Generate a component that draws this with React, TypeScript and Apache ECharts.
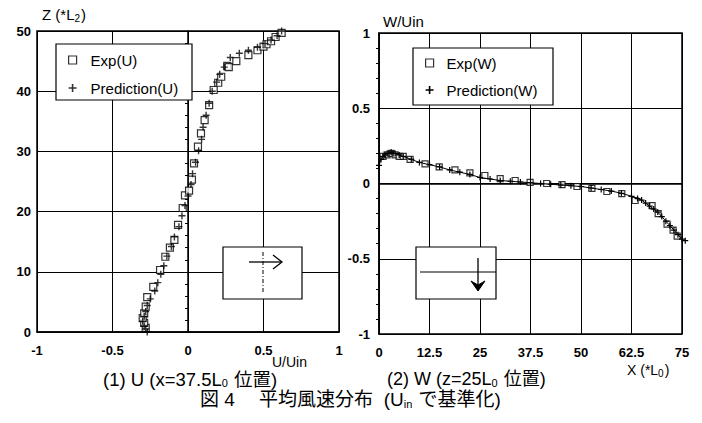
import React, { useEffect, useRef } from "react";
import * as echarts from "echarts";

// U/Uin vs Z (left panel)
const uExp: [number, number][] = [
  [-0.28, 0.7], [-0.29, 1.5], [-0.3, 2.3], [-0.29, 3.1], [-0.28, 4.2], [-0.27, 5.8],
  [-0.23, 7.5], [-0.185, 10.3], [-0.15, 12.5], [-0.12, 14.0], [-0.09, 15.3], [-0.066, 17.8],
  [-0.035, 20.6], [-0.02, 22.7], [0.007, 23.5], [0.026, 25.3], [0.04, 28], [0.066, 30.8],
  [0.086, 33], [0.11, 35.2], [0.14, 37.7], [0.17, 40.2], [0.2, 41.4], [0.22, 42.4],
  [0.26, 44.2], [0.27, 44], [0.32, 45], [0.4, 46], [0.46, 46.8], [0.5, 47.4], [0.52, 47.8],
  [0.55, 48.3], [0.58, 49], [0.62, 49.7],
];
const uPred: [number, number][] = [
  [-0.27, 0], [-0.28, 0.5], [-0.29, 1], [-0.3, 1.8], [-0.29, 2.6], [-0.28, 3.4], [-0.27, 4.4],
  [-0.25, 5.5], [-0.22, 6.8], [-0.2, 8.2], [-0.18, 9.6], [-0.16, 11], [-0.14, 12.6],
  [-0.11, 14.2], [-0.09, 15.8], [-0.06, 17.5], [-0.04, 19.3], [-0.02, 21], [0.0, 22.6],
  [0.02, 24.5], [0.03, 26.3], [0.05, 28.2], [0.07, 30.1], [0.09, 32], [0.1, 34], [0.12, 36],
  [0.14, 38], [0.16, 40], [0.19, 41.5], [0.21, 42.8], [0.24, 44], [0.28, 45.6], [0.34, 46.3],
  [0.4, 46.8], [0.46, 47.3], [0.51, 47.9], [0.55, 48.5], [0.59, 49.2], [0.62, 50],
];

// X vs W/Uin (right panel)
const wExp: [number, number][] = [
  [1, 0.18], [2, 0.19], [3, 0.2], [4, 0.19], [5, 0.18], [6, 0.18], [7.7, 0.16], [11.4, 0.13],
  [14.9, 0.11], [18.8, 0.09], [22.5, 0.07], [26.2, 0.053], [30, 0.033], [33.7, 0.02],
  [37.4, 0.007], [41.5, 0], [45.3, -0.007], [49, -0.02], [52.7, -0.033], [56.4, -0.053],
  [60.1, -0.067], [63.4, -0.113], [67.6, -0.147], [69.1, -0.2], [71.3, -0.27], [72.8, -0.31],
  [73.8, -0.35],
];
const wPred: [number, number][] = [
  [0, 0.12], [0.5, 0.16], [1, 0.18], [1.5, 0.19], [2, 0.2], [2.5, 0.2], [3, 0.21], [3.5, 0.2],
  [4, 0.2], [5, 0.19], [6, 0.18], [8, 0.16], [10, 0.14], [12.5, 0.125], [15, 0.11],
  [17.5, 0.09], [20, 0.075], [22.5, 0.06], [25, 0.04], [27.5, 0.03], [30, 0.02], [32.5, 0.015],
  [35, 0.01], [37.5, 0.005], [40, 0], [42.5, -0.005], [45, -0.01], [47.5, -0.015], [50, -0.02],
  [52.5, -0.03], [55, -0.04], [57.5, -0.05], [60, -0.065], [62.5, -0.085], [64, -0.1],
  [65, -0.11], [66, -0.13], [67, -0.15], [68, -0.17], [69, -0.19], [70, -0.22], [71, -0.25],
  [72, -0.28], [73, -0.31], [74, -0.34], [75, -0.37], [75.8, -0.38],
];

const uTicks = ["-1", "-0.5", "0", "0.5", "1"];
const xTicks = ["0", "12.5", "25", "37.5", "50", "62.5", "75"];

const PLUS = "path://M4,0H6V4H10V6H6V10H4V6H0V4H4Z";
const FONT = "'Liberation Sans', Arial, 'Noto Sans CJK JP', sans-serif";

export default function App() {
  const ref = useRef<HTMLDivElement>(null);
  useEffect(() => {
    if (!ref.current) return;
    const chart = echarts.init(ref.current, undefined, { renderer: "svg" });
    const axisLabel = { color: "#000", fontSize: 13, fontWeight: "bold" as const, fontFamily: FONT };
    const split = { show: true, lineStyle: { color: "#000", width: 1 } };
    const axisLine = { show: true, lineStyle: { color: "#000", width: 1.5 } };
    const boxStyle = { color: "#fff", borderColor: "#000", borderWidth: 1.2 };
    const legendText = { fontSize: 15, color: "#000", fontFamily: FONT, lineHeight: 16 };
    const main = (size: number, lh: number) => ({ fontSize: size, fontFamily: FONT, fill: "#000", lineHeight: lh });
    const sub = (size: number) => ({ fontSize: size, fontFamily: FONT, fill: "#000", lineHeight: size + 1, verticalAlign: "bottom", padding: [0, 1, 0, 0] });
    const option: any = {
      animation: false,
      backgroundColor: "#fff",
      grid: [
        { left: 37, top: 31, width: 302, height: 301, show: true, borderColor: "#000", borderWidth: 1.5, backgroundColor: "transparent" },
        { left: 379, top: 33, width: 303, height: 301, show: true, borderColor: "#000", borderWidth: 1.5, backgroundColor: "transparent" },
      ],
      xAxis: [
        {
          gridIndex: 0, type: "value", min: -1, max: 1, interval: 0.5,
          axisLine, axisTick: { show: false }, splitLine: split,
          axisLabel: { ...axisLabel, margin: 12, formatter: (v: number) => uTicks[Math.round((v + 1) / 0.5)] ?? "" },
        },
        {
          gridIndex: 1, type: "value", min: 0, max: 75, interval: 12.5,
          axisLine, axisTick: { show: false }, splitLine: split,
          axisLabel: { ...axisLabel, margin: 12, formatter: (v: number) => xTicks[Math.round(v / 12.5)] ?? "" },
        },
      ],
      yAxis: [
        {
          gridIndex: 0, type: "value", min: 0, max: 50, interval: 10,
          axisLine, splitLine: split,
          axisTick: { show: false },
          minorTick: { show: true, splitNumber: 5, length: 3, lineStyle: { color: "#000" } },
          axisLabel: { ...axisLabel, margin: 6 },
        },
        {
          gridIndex: 1, type: "value", min: -1, max: 1, interval: 0.5,
          axisLine, splitLine: split,
          axisTick: { show: false },
          minorTick: { show: true, splitNumber: 5, length: 3, lineStyle: { color: "#000" } },
          axisLabel: { ...axisLabel, margin: 9 },
        },
      ],
      legend: [
        {
          left: 68, top: 52, orient: "vertical", padding: 0, itemGap: 12,
          itemWidth: 8, itemHeight: 8, z: 6,
          textStyle: { ...legendText, padding: [0, 0, 0, 9] },
          data: [
            { name: "Exp(U)", icon: "rect", itemStyle: boxStyle },
            { name: "Prediction(U)", icon: PLUS, itemStyle: { color: "#000" } },
          ],
        },
        {
          left: 425, top: 55, orient: "vertical", padding: 0, itemGap: 11,
          itemWidth: 8, itemHeight: 8, z: 6,
          textStyle: { ...legendText, padding: [0, 0, 0, 8] },
          data: [
            { name: "Exp(W)", icon: "rect", itemStyle: boxStyle },
            { name: "Prediction(W)", icon: PLUS, itemStyle: { color: "#000" } },
          ],
        },
      ],
      series: [
        {
          name: "Exp(U)", type: "scatter", xAxisIndex: 0, yAxisIndex: 0, data: uExp,
          symbol: "rect", symbolSize: 7, itemStyle: boxStyle,
        },
        {
          name: "Prediction(U)", type: "scatter", xAxisIndex: 0, yAxisIndex: 0, data: uPred,
          symbol: PLUS, symbolSize: 7, itemStyle: { color: "#000" },
        },
        {
          name: "Exp(W)", type: "scatter", xAxisIndex: 1, yAxisIndex: 1, data: wExp,
          symbol: "rect", symbolSize: 6, itemStyle: boxStyle,
        },
        {
          name: "Prediction(W)", type: "line", xAxisIndex: 1, yAxisIndex: 1, data: wPred,
          symbol: PLUS, symbolSize: 6, showSymbol: true, clip: false,
          lineStyle: { color: "#000", width: 1 }, itemStyle: { color: "#000" },
        },
      ],
      graphic: [
        // legend frames
        { type: "rect", z: 3, shape: { x: 56, y: 44, width: 136, height: 56 }, style: { fill: "#fff", stroke: "#000", lineWidth: 1.2 } },
        { type: "rect", z: 3, shape: { x: 413, y: 48, width: 140, height: 57 }, style: { fill: "#fff", stroke: "#000", lineWidth: 1.2 } },
        // insets
        { type: "rect", z: 20, shape: { x: 223, y: 247, width: 79, height: 52 }, style: { fill: "#fff", stroke: "#000", lineWidth: 1.2 } },
        { type: "line", z: 21, shape: { x1: 249, y1: 262, x2: 281, y2: 262 }, style: { stroke: "#000", lineWidth: 1.3 } },
        { type: "polyline", z: 21, shape: { points: [[273, 255], [282, 262], [273, 269]] }, style: { stroke: "#000", lineWidth: 1.3, fill: "none" } },
        { type: "line", z: 21, shape: { x1: 263, y1: 252, x2: 263, y2: 294 }, style: { stroke: "#000", lineWidth: 1, lineDash: [4, 2, 1, 2] } },
        { type: "rect", z: 20, shape: { x: 416, y: 247, width: 80, height: 52 }, style: { fill: "#fff", stroke: "#000", lineWidth: 1.2 } },
        { type: "line", z: 21, shape: { x1: 420, y1: 272, x2: 496, y2: 272 }, style: { stroke: "#000", lineWidth: 1.2 } },
        { type: "line", z: 21, shape: { x1: 478, y1: 258, x2: 478, y2: 288 }, style: { stroke: "#000", lineWidth: 1.3 } },
        { type: "polygon", z: 21, shape: { points: [[471, 281], [478, 291], [485, 281], [478, 285]] }, style: { fill: "#000", stroke: "#000", lineWidth: 1 } },
        // axis names
        {
          type: "text", z: 22, left: 42, top: 7,
          style: { text: "{a|Z (*L}{s|2}{a|)}", fill: "#000", rich: { a: main(15, 18), s: sub(10) } },
        },
        { type: "text", z: 22, left: 383, top: 14, style: { text: "W/Uin", fontSize: 15, fontFamily: FONT, fill: "#000" } },
        { type: "text", z: 22, left: 272, top: 355, style: { text: "U/Uin", fontSize: 14, fontFamily: FONT, fill: "#000" } },
        {
          type: "text", z: 22, left: 627, top: 363,
          style: { text: "{a|X (*L}{s|0}{a|)}", fill: "#000", rich: { a: main(14, 17), s: sub(10) } },
        },
        // captions
        {
          type: "text", z: 22, left: 103, top: 370,
          style: { text: "{a|(1) U (x=37.5L}{s|0}{a| 位置)}", fill: "#000", rich: { a: main(18.5, 19), s: sub(11) } },
        },
        {
          type: "text", z: 22, left: 387, top: 370,
          style: { text: "{a|(2) W (z=25L}{s|0}{a| 位置)}", fill: "#000", rich: { a: main(18, 19), s: sub(11) } },
        },
        {
          type: "text", z: 22, left: 200, top: 390,
          style: { text: "{a|図 4　 平均風速分布  (U}{s|in}{a| で基準化)}", fill: "#000", rich: { a: main(19, 19), s: sub(11) } },
        },
      ],
    };
    chart.setOption(option);
    return () => chart.dispose();
  }, []);
  return (
    <div
      ref={ref}
      style={{ position: "fixed", left: 0, top: 0, width: 702, height: 423, background: "#fff" }}
    />
  );
}
